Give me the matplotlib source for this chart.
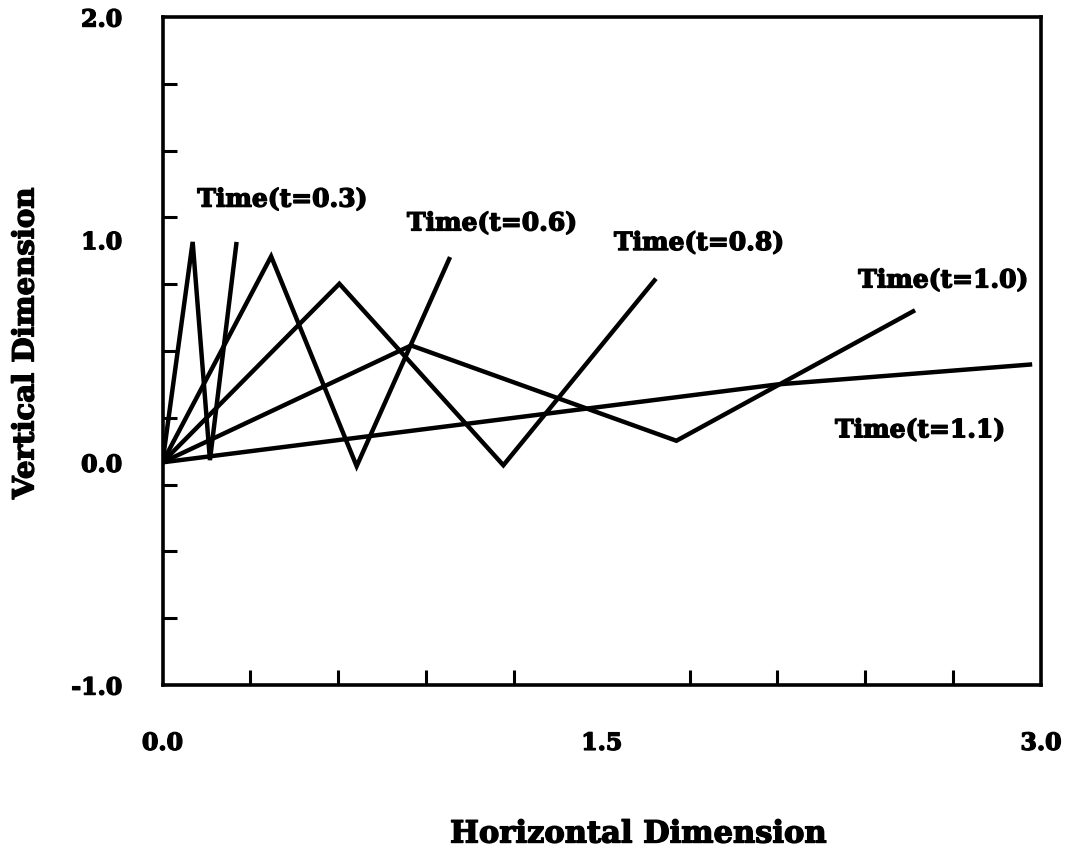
import matplotlib
matplotlib.use("Agg")
import matplotlib.pyplot as plt
import matplotlib.patheffects as pe

# ---- data ----
x_t03 = [0.0, 0.103, 0.162, 0.253]
y_t03 = [0.0, 0.99, 0.01, 0.99]
x_t06 = [0.0, 0.371, 0.663, 0.982]
y_t06 = [0.0, 0.925, -0.017, 0.922]
x_t08 = [0.0, 0.604, 1.164, 1.685]
y_t08 = [0.0, 0.802, -0.013, 0.825]
x_t10 = [0.0, 0.849, 1.755, 2.57]
y_t10 = [0.0, 0.525, 0.097, 0.683]
x_t11 = [0.0, 2.1, 2.97]
y_t11 = [0.0, 0.35, 0.44]

series_labels = ["Time(t=0.3)", "Time(t=0.6)", "Time(t=0.8)", "Time(t=1.0)", "Time(t=1.1)"]
x_ticklabels = ["0.0", "1.5", "3.0"]
y_ticklabels = ["-1.0", "0.0", "1.0", "2.0"]
x_tick_vals = [0.0, 1.5, 3.0]
y_tick_vals = [-1.0, 0.0, 1.0, 2.0]
x_minor = [round(0.3 * i, 1) for i in range(11)]
y_minor = [round(-1.0 + 0.3 * i, 1) for i in range(11)]

FONT = "DejaVu Serif"
HEAVY = [pe.withStroke(linewidth=1.0, foreground="black")]

fig = plt.figure(figsize=(10.67, 8.55), dpi=100)
ax = fig.add_axes([0.1523, 0.1988, 0.8233, 0.7813])

for xs, ys in [(x_t03, y_t03), (x_t06, y_t06), (x_t08, y_t08), (x_t10, y_t10), (x_t11, y_t11)]:
    ax.plot(xs, ys, color="black", lw=3.2, solid_joinstyle="miter", solid_capstyle="butt")

ax.set_xlim(0, 3.0)
ax.set_ylim(-1.0, 2.0)

for s in ax.spines.values():
    s.set_linewidth(2.6)

ax.set_xticks(x_tick_vals)
ax.set_xticklabels(x_ticklabels)
ax.set_yticks(y_tick_vals)
ax.set_yticklabels(y_ticklabels)
ax.set_xticks(x_minor, minor=True)
ax.set_yticks(y_minor, minor=True)
ax.tick_params(axis="x", which="major", length=0, pad=33)
ax.tick_params(axis="y", which="major", length=0, pad=29)
ax.tick_params(axis="x", which="minor", direction="in", length=11, width=2.2)
ax.tick_params(axis="y", which="minor", direction="in", length=10, width=2.2)
ax.tick_params(axis="both", which="minor", top=False, right=False)
for lab in ax.get_xticklabels() + ax.get_yticklabels():
    lab.set_fontfamily(FONT)
    lab.set_fontweight("bold")
    lab.set_fontsize(17)
    lab.set_path_effects(HEAVY)

label_pos = [(0.409, 1.18), (1.125, 1.073), (1.832, 0.985), (2.666, 0.817), (2.587, 0.144)]
for txt, (lx, ly) in zip(series_labels, label_pos):
    ax.text(lx, ly, txt, ha="center", va="center", fontsize=18,
            fontweight="bold", family=FONT, path_effects=HEAVY)

fig.text(638 / 1067, 1 - 834 / 855, "Horizontal Dimension", ha="center", va="center",
         fontsize=22, fontweight="bold", family=FONT, path_effects=HEAVY)
fig.text(25 / 1067, 1 - 343 / 855, "Vertical Dimension", ha="center", va="center",
         rotation=90, fontsize=21, fontweight="bold", family=FONT, path_effects=HEAVY)

fig.savefig("out.png", dpi=100)
